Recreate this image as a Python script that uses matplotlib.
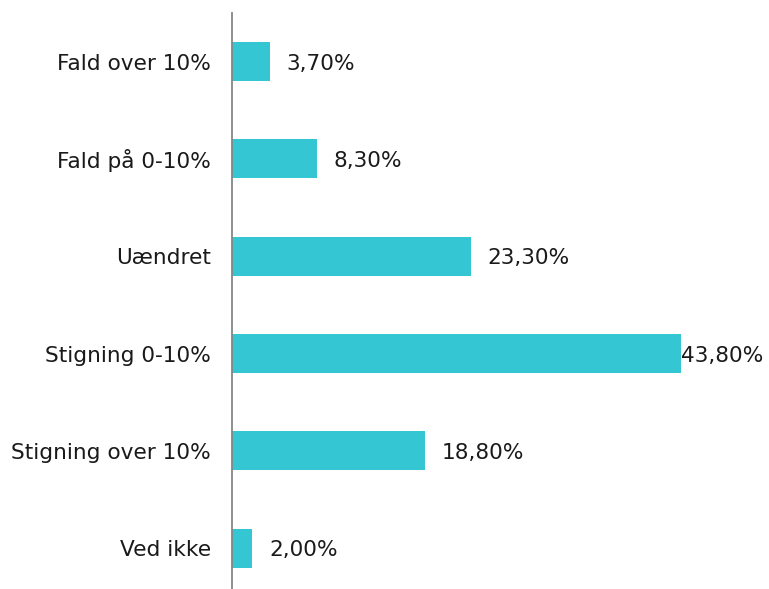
import matplotlib
matplotlib.use("Agg")
import matplotlib.pyplot as plt

categories = ["Fald over 10%", "Fald på 0-10%", "Uændret", "Stigning 0-10%",
              "Stigning over 10%", "Ved ikke"]
values = [3.7, 8.3, 23.3, 43.8, 18.8, 2.0]
value_labels = ["3,70%", "8,30%", "23,30%", "43,80%", "18,80%", "2,00%"]

plt.rcParams['font.family'] = ['DejaVu Sans']
W, H, DPI = 769, 589, 100
fig = plt.figure(figsize=(W / DPI, H / DPI), dpi=DPI)
left, right, top, bottom = 232, 769, 13, 589
ax = fig.add_axes([left / W, 1 - bottom / H, (right - left) / W, (bottom - top) / H])

color = "#34C6D3"
text_color = "#1A1A1A"
fs = 15.6
ypos = list(range(len(categories)))
ax.barh(ypos, values, height=0.40, color=color, zorder=1)

ax.set_xlim(0, (right - left) / 10.244)
ax.set_ylim(5.42, -0.5)
ax.set_yticks(ypos)
ax.set_yticklabels(categories, fontsize=fs, color=text_color, va="center_baseline")
ax.tick_params(axis='y', length=0, pad=15)
ax.set_xticks([])
for s in ["top", "right", "bottom"]:
    ax.spines[s].set_visible(False)
ax.spines["left"].set_color("#868686")
ax.spines["left"].set_linewidth(1.3)
ax.spines["left"].set_zorder(3)

vmax = max(values)
for y, v, lab in zip(ypos, values, value_labels):
    off = 0 if v == vmax else 12
    ax.annotate(lab, xy=(v, y), xytext=(off, 0), textcoords="offset points",
                ha="left", va="center_baseline", fontsize=fs, color=text_color)

fig.savefig("out.png", dpi=DPI)
